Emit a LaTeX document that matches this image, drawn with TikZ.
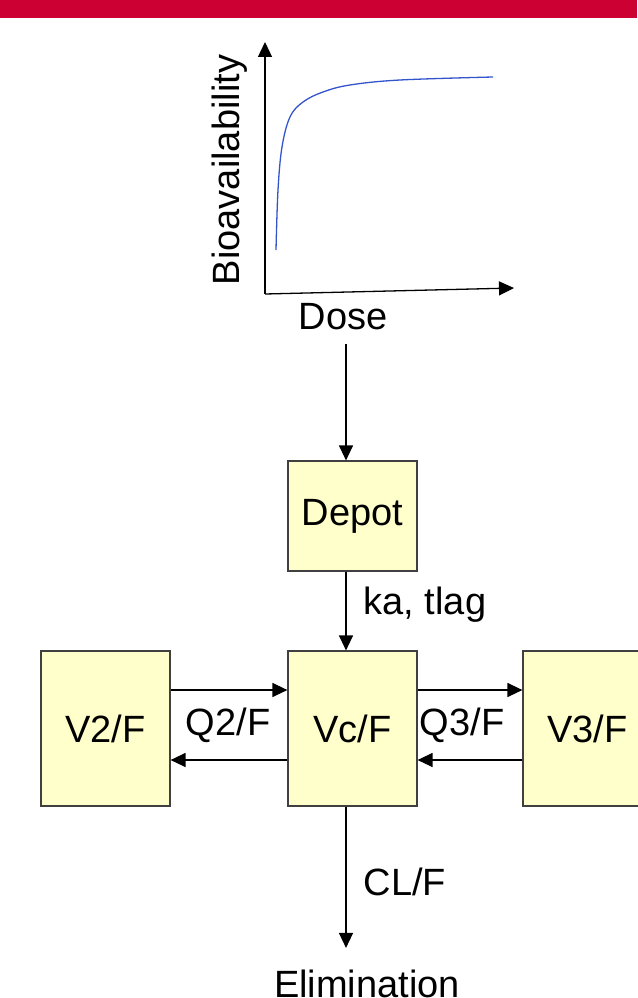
\documentclass[tikz,border=0pt]{standalone}
\usepackage{fontspec}
\setmainfont{Liberation Sans}
\usetikzlibrary{arrows.meta}
\definecolor{topred}{RGB}{204,0,51}
\definecolor{boxfill}{RGB}{255,255,204}
\definecolor{curveblue}{RGB}{51,85,204}
\tikzset{
  comp/.style={draw=darkgray,fill=boxfill,line width=1.2pt,minimum width=129pt,minimum height=155pt,inner sep=0pt},
  arr/.style={-{Triangle[length=15pt,width=14pt]},line width=1.3pt},
}
\begin{document}
\begin{tikzpicture}[x=1pt,y=-1pt,font=\fontsize{38}{42}\selectfont]
\useasboundingbox (0,0) rectangle (637,998);
\fill[topred] (0,0) rectangle (637,18);
% dose - bioavailability graph
\def\xO{265};
\def\yO{294};
\coordinate (O) at (\xO,\yO);
\coordinate (Yax) at (\xO,42);
\coordinate (Xax) at (514,288);
\draw[arr] (O) -- (Yax);
\draw[arr] (O) -- (Xax);
\draw[curveblue,line width=1.3pt] plot[smooth,tension=0.6] coordinates {(276,250) (278,190) (282,147) (290,117) (303,102) (323,92) (350,85) (400,80) (493,77)};
\node[rotate=90] (bio) at (230,170) {Bioavailability};
\node (dose) at (343,317) {Dose};
% compartments
\def\xM{346};
\def\yU{690};
\def\yD{760};
\coordinate (mid) at (\xM,0);
\coordinate (up) at (0,\yU);
\coordinate (dn) at (0,\yD);
\node[comp,minimum height=110pt] (depot) at (352.5,516) {Depot};
\node[comp] (vc) at (352.5,728.5) {Vc/F};
\node[comp] (vtwo) at (105.5,728.5) {V2/F};
\node[comp] (vthree) at (587.5,728.5) {V3/F};
\node[anchor=base] (elim) at (367,997) {Elimination};
\draw[arr,shorten <=10pt] (dose.south -| mid) -- (depot.north -| mid);
\draw[arr] (depot.south -| mid) -- (vc.north -| mid);
\draw[arr] (vtwo.east |- up) -- (vc.west |- up);
\draw[arr] (vc.west |- dn) -- (vtwo.east |- dn);
\draw[arr] (vc.east |- up) -- (vthree.west |- up);
\draw[arr] (vthree.west |- dn) -- (vc.east |- dn);
\draw[arr,shorten >=18pt] (vc.south -| mid) -- (elim.north -| mid);
% rate labels
\node (ka) at (425,605) {ka, tlag};
\node (qtwo) at (228,725) {Q2/F};
\node (qthree) at (462,725) {Q3/F};
\node (cl) at (405,882) {CL/F};
\end{tikzpicture}
\end{document}
